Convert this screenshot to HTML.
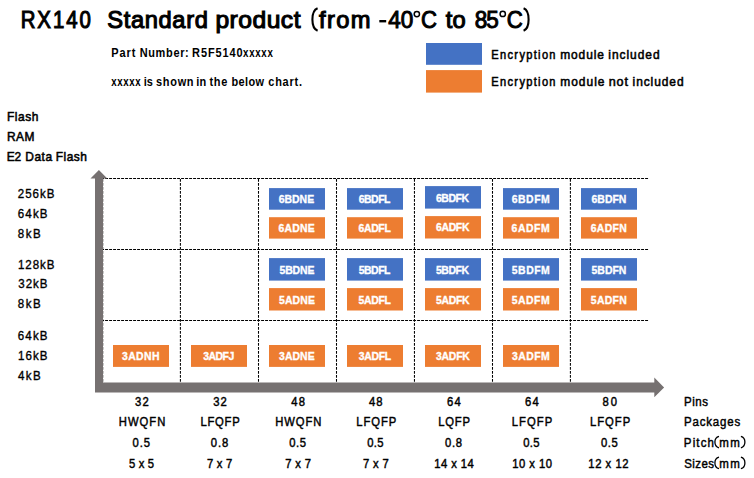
<!DOCTYPE html>
<html><head><meta charset="utf-8"><style>
html,body{margin:0;padding:0;background:#fff;width:754px;height:478px;overflow:hidden}
svg{display:block}
text{font-family:"Liberation Sans",sans-serif;font-kerning:none}
</style></head><body>
<svg width="754" height="478" viewBox="0 0 754 478">
<rect width="754" height="478" fill="#fff"/>
<text transform="translate(20.70 27.5) scale(0.860 1)" font-size="23.7" fill="#000" stroke="#000" stroke-width="1.1" letter-spacing="2.268">RX140</text>
<text transform="translate(107.27 27.5) scale(1.000 1)" font-size="23.7" fill="#000" stroke="#000" stroke-width="1.1" letter-spacing="0.631">Standard</text>
<text transform="translate(215.38 27.5) scale(1.040 1)" font-size="23.7" fill="#000" stroke="#000" stroke-width="1.1" letter-spacing="0.483">product</text>
<text transform="translate(319.11 27.5) scale(1.000 1)" font-size="23.7" fill="#000" stroke="#000" stroke-width="1.1" letter-spacing="1.333">from</text>
<text transform="translate(445.69 27.5) scale(1.000 1)" font-size="23.7" fill="#000" stroke="#000" stroke-width="1.1" letter-spacing="0.189">to</text>
<text transform="translate(388.36 27.7) scale(0.950 1)" font-size="23.7" fill="#000" stroke="#000" stroke-width="1.0" letter-spacing="-0.102">40</text>
<text transform="translate(420.98 27.7) scale(0.933 1)" font-size="23.7" fill="#000" stroke="#000" stroke-width="1.0">C</text>
<text transform="translate(474.70 27.7) scale(0.950 1)" font-size="23.7" fill="#000" stroke="#000" stroke-width="1.0" letter-spacing="-0.915">85</text>
<text transform="translate(506.87 27.7) scale(0.939 1)" font-size="23.7" fill="#000" stroke="#000" stroke-width="1.0">C</text>
<rect x="379.3" y="20" width="6.9" height="2.4" fill="#000"/>
<circle cx="416.85" cy="14.1" r="2.65" fill="none" stroke="#000" stroke-width="1.5"/>
<circle cx="502.75" cy="13.9" r="2.65" fill="none" stroke="#000" stroke-width="1.5"/>
<path d="M317.6 8.2 C310.67 10.90 310.67 28.00 317.6 30.7" fill="none" stroke="#000" stroke-width="2.1"/>
<path d="M523.6 8.2 C530.27 10.90 530.27 28.00 523.6 30.7" fill="none" stroke="#000" stroke-width="2.1"/>
<text transform="translate(111.27 57) scale(0.850 1)" font-size="12.9" font-weight="bold" fill="#000" letter-spacing="1.073">Part</text>
<text transform="translate(139.67 57) scale(0.850 1)" font-size="12.9" font-weight="bold" fill="#000" letter-spacing="0.786">Number:</text>
<text transform="translate(192.07 57) scale(0.850 1)" font-size="12.9" font-weight="bold" fill="#000" letter-spacing="1.074">R5F5140</text>
<text transform="translate(243.03 57) scale(0.750 1)" font-size="12.9" font-weight="bold" fill="#000" letter-spacing="0.978">xxxxx</text>
<text transform="translate(111.23 86) scale(0.750 1)" font-size="12.9" font-weight="bold" fill="#000" letter-spacing="0.811">xxxxx</text>
<text transform="translate(143.73 86) scale(0.850 1)" font-size="12.9" font-weight="bold" fill="#000" letter-spacing="-0.034">is</text>
<text transform="translate(156.01 86) scale(0.850 1)" font-size="12.9" font-weight="bold" fill="#000" letter-spacing="0.837">shown</text>
<text transform="translate(196.13 86) scale(0.850 1)" font-size="12.9" font-weight="bold" fill="#000" letter-spacing="0.354">in</text>
<text transform="translate(209.47 86) scale(0.850 1)" font-size="12.9" font-weight="bold" fill="#000" letter-spacing="0.801">the</text>
<text transform="translate(231.48 86) scale(0.850 1)" font-size="12.9" font-weight="bold" fill="#000" letter-spacing="0.421">below</text>
<text transform="translate(268.27 86) scale(0.850 1)" font-size="12.9" font-weight="bold" fill="#000" letter-spacing="0.900">chart.</text>
<rect x="426" y="43" width="56" height="21.8" fill="#4472c4"/>
<rect x="426" y="70.1" width="56" height="22.5" fill="#ed7d31"/>
<text transform="translate(491.33 59) scale(0.880 1)" font-size="12.6" fill="#000" stroke="#000" stroke-width="0.55" letter-spacing="1.497">Encryption</text>
<text transform="translate(560.17 59) scale(0.950 1)" font-size="12.6" fill="#000" stroke="#000" stroke-width="0.55" letter-spacing="0.978">module</text>
<text transform="translate(608.36 59) scale(0.950 1)" font-size="12.6" fill="#000" stroke="#000" stroke-width="0.55" letter-spacing="1.002">included</text>
<text transform="translate(491.33 85.9) scale(0.880 1)" font-size="12.6" fill="#000" stroke="#000" stroke-width="0.55" letter-spacing="1.497">Encryption</text>
<text transform="translate(560.17 85.9) scale(0.950 1)" font-size="12.6" fill="#000" stroke="#000" stroke-width="0.55" letter-spacing="1.083">module</text>
<text transform="translate(608.64 85.9) scale(1.000 1)" font-size="12.6" fill="#000" stroke="#000" stroke-width="0.55" letter-spacing="0.882">not</text>
<text transform="translate(632.56 85.9) scale(0.950 1)" font-size="12.6" fill="#000" stroke="#000" stroke-width="0.55" letter-spacing="0.971">included</text>
<text transform="translate(6.97 120.9) scale(0.920 1)" font-size="13" fill="#000" stroke="#000" stroke-width="0.55" letter-spacing="0.572">Flash</text>
<text transform="translate(6.97 140.8) scale(0.920 1)" font-size="13" fill="#000" stroke="#000" stroke-width="0.55" letter-spacing="0.532">RAM</text>
<text transform="translate(6.87 160.7) scale(0.920 1)" font-size="13" fill="#000" stroke="#000" stroke-width="0.55" letter-spacing="-0.492">E2</text>
<text transform="translate(25.37 160.7) scale(0.920 1)" font-size="13" fill="#000" stroke="#000" stroke-width="0.55" letter-spacing="0.512">Data</text>
<text transform="translate(55.77 160.7) scale(0.920 1)" font-size="13" fill="#000" stroke="#000" stroke-width="0.55" letter-spacing="0.518">Flash</text>
<text transform="translate(17.79 197.6) scale(0.960 1)" font-size="12" fill="#000" stroke="#000" stroke-width="0.35" letter-spacing="1.038">256kB</text>
<text transform="translate(17.78 217.7) scale(0.960 1)" font-size="12" fill="#000" stroke="#000" stroke-width="0.35" letter-spacing="1.215">64kB</text>
<text transform="translate(17.87 237.5) scale(0.960 1)" font-size="12" fill="#000" stroke="#000" stroke-width="0.35" letter-spacing="1.522">8kB</text>
<text transform="translate(17.89 268.8) scale(0.960 1)" font-size="12" fill="#000" stroke="#000" stroke-width="0.35" letter-spacing="1.012">128kB</text>
<text transform="translate(18.33 288.3) scale(0.960 1)" font-size="12" fill="#000" stroke="#000" stroke-width="0.35" letter-spacing="1.025">32kB</text>
<text transform="translate(17.87 308.4) scale(0.960 1)" font-size="12" fill="#000" stroke="#000" stroke-width="0.35" letter-spacing="1.522">8kB</text>
<text transform="translate(17.78 339.8) scale(0.960 1)" font-size="12" fill="#000" stroke="#000" stroke-width="0.35" letter-spacing="1.215">64kB</text>
<text transform="translate(17.89 359.7) scale(0.960 1)" font-size="12" fill="#000" stroke="#000" stroke-width="0.35" letter-spacing="1.178">16kB</text>
<text transform="translate(18.10 379.8) scale(0.960 1)" font-size="12" fill="#000" stroke="#000" stroke-width="0.35" letter-spacing="1.399">4kB</text>
<rect x="269.0" y="188.1" width="56" height="21.6" fill="#4472c4"/>
<text transform="translate(278.78 202.8) scale(0.950 1)" font-size="11" font-weight="bold" fill="#fff" stroke="#fff" stroke-width="0.35" letter-spacing="-0.017">6BDNE</text>
<rect x="269.0" y="217.2" width="56" height="21.4" fill="#ed7d31"/>
<text transform="translate(278.58 231.9) scale(0.950 1)" font-size="11" font-weight="bold" fill="#fff" stroke="#fff" stroke-width="0.35" letter-spacing="0.220">6ADNE</text>
<rect x="269.0" y="258.1" width="56" height="22.5" fill="#4472c4"/>
<text transform="translate(279.54 273.8) scale(0.950 1)" font-size="11" font-weight="bold" fill="#fff" stroke="#fff" stroke-width="0.35" letter-spacing="-0.138">5BDNE</text>
<rect x="269.0" y="288.1" width="56" height="22.4" fill="#ed7d31"/>
<text transform="translate(278.94 303.6) scale(0.950 1)" font-size="11" font-weight="bold" fill="#fff" stroke="#fff" stroke-width="0.35" letter-spacing="0.178">5ADNE</text>
<rect x="347.0" y="188.1" width="56" height="21.6" fill="#4472c4"/>
<text transform="translate(358.68 202.8) scale(0.950 1)" font-size="11" font-weight="bold" fill="#fff" stroke="#fff" stroke-width="0.35" letter-spacing="-0.500">6BDFL</text>
<rect x="347.0" y="217.2" width="56" height="21.4" fill="#ed7d31"/>
<text transform="translate(358.38 231.9) scale(0.950 1)" font-size="11" font-weight="bold" fill="#fff" stroke="#fff" stroke-width="0.35" letter-spacing="-0.316">6ADFL</text>
<rect x="347.0" y="258.1" width="56" height="22.5" fill="#4472c4"/>
<text transform="translate(358.74 273.8) scale(0.950 1)" font-size="11" font-weight="bold" fill="#fff" stroke="#fff" stroke-width="0.35" letter-spacing="-0.516">5BDFL</text>
<rect x="347.0" y="288.1" width="56" height="22.4" fill="#ed7d31"/>
<text transform="translate(358.44 303.6) scale(0.950 1)" font-size="11" font-weight="bold" fill="#fff" stroke="#fff" stroke-width="0.35" letter-spacing="-0.332">5ADFL</text>
<rect x="425.0" y="186.1" width="56" height="22.5" fill="#4472c4"/>
<text transform="translate(435.88 201.8) scale(0.950 1)" font-size="11" font-weight="bold" fill="#fff" stroke="#fff" stroke-width="0.35" letter-spacing="-0.418">6BDFK</text>
<rect x="425.0" y="216.1" width="56" height="22.4" fill="#ed7d31"/>
<text transform="translate(435.88 231.2) scale(0.950 1)" font-size="11" font-weight="bold" fill="#fff" stroke="#fff" stroke-width="0.35" letter-spacing="-0.313">6ADFK</text>
<rect x="425.0" y="258.1" width="56" height="22.5" fill="#4472c4"/>
<text transform="translate(435.94 273.8) scale(0.950 1)" font-size="11" font-weight="bold" fill="#fff" stroke="#fff" stroke-width="0.35" letter-spacing="-0.434">5BDFK</text>
<rect x="425.0" y="288.1" width="56" height="22.4" fill="#ed7d31"/>
<text transform="translate(435.94 303.6) scale(0.950 1)" font-size="11" font-weight="bold" fill="#fff" stroke="#fff" stroke-width="0.35" letter-spacing="-0.329">5ADFK</text>
<rect x="503.0" y="188.1" width="56" height="21.6" fill="#4472c4"/>
<text transform="translate(511.78 202.8) scale(0.950 1)" font-size="11" font-weight="bold" fill="#fff" stroke="#fff" stroke-width="0.35" letter-spacing="0.515">6BDFM</text>
<rect x="503.0" y="217.2" width="56" height="21.4" fill="#ed7d31"/>
<text transform="translate(511.58 231.9) scale(0.950 1)" font-size="11" font-weight="bold" fill="#fff" stroke="#fff" stroke-width="0.35" letter-spacing="0.567">6ADFM</text>
<rect x="503.0" y="258.1" width="56" height="22.5" fill="#4472c4"/>
<text transform="translate(511.84 273.8) scale(0.950 1)" font-size="11" font-weight="bold" fill="#fff" stroke="#fff" stroke-width="0.35" letter-spacing="0.499">5BDFM</text>
<rect x="503.0" y="288.1" width="56" height="22.4" fill="#ed7d31"/>
<text transform="translate(511.64 303.6) scale(0.950 1)" font-size="11" font-weight="bold" fill="#fff" stroke="#fff" stroke-width="0.35" letter-spacing="0.551">5ADFM</text>
<rect x="581.0" y="188.1" width="56" height="21.6" fill="#4472c4"/>
<text transform="translate(591.48 202.8) scale(0.950 1)" font-size="11" font-weight="bold" fill="#fff" stroke="#fff" stroke-width="0.35" letter-spacing="0.031">6BDFN</text>
<rect x="581.0" y="217.2" width="56" height="21.4" fill="#ed7d31"/>
<text transform="translate(590.78 231.9) scale(0.950 1)" font-size="11" font-weight="bold" fill="#fff" stroke="#fff" stroke-width="0.35" letter-spacing="0.295">6ADFN</text>
<rect x="581.0" y="258.1" width="56" height="22.5" fill="#4472c4"/>
<text transform="translate(591.54 273.8) scale(0.950 1)" font-size="11" font-weight="bold" fill="#fff" stroke="#fff" stroke-width="0.35" letter-spacing="0.015">5BDFN</text>
<rect x="581.0" y="288.1" width="56" height="22.4" fill="#ed7d31"/>
<text transform="translate(590.84 303.6) scale(0.950 1)" font-size="11" font-weight="bold" fill="#fff" stroke="#fff" stroke-width="0.35" letter-spacing="0.278">5ADFN</text>
<rect x="113.0" y="345" width="56" height="21.9" fill="#ed7d31"/>
<text transform="translate(121.93 359.7) scale(0.950 1)" font-size="11" font-weight="bold" fill="#fff" stroke="#fff" stroke-width="0.35" letter-spacing="0.424">3ADNH</text>
<rect x="191.0" y="345" width="56" height="21.9" fill="#ed7d31"/>
<text transform="translate(203.13 359.7) scale(0.950 1)" font-size="11" font-weight="bold" fill="#fff" stroke="#fff" stroke-width="0.35" letter-spacing="-0.494">3ADFJ</text>
<rect x="269.0" y="345" width="56" height="21.9" fill="#ed7d31"/>
<text transform="translate(279.03 359.7) scale(0.950 1)" font-size="11" font-weight="bold" fill="#fff" stroke="#fff" stroke-width="0.35" letter-spacing="0.051">3ADNE</text>
<rect x="347.0" y="345" width="56" height="21.9" fill="#ed7d31"/>
<text transform="translate(358.73 359.7) scale(0.950 1)" font-size="11" font-weight="bold" fill="#fff" stroke="#fff" stroke-width="0.35" letter-spacing="-0.301">3ADFL</text>
<rect x="425.0" y="345" width="56" height="21.9" fill="#ed7d31"/>
<text transform="translate(435.93 359.7) scale(0.950 1)" font-size="11" font-weight="bold" fill="#fff" stroke="#fff" stroke-width="0.35" letter-spacing="-0.219">3ADFK</text>
<rect x="503.0" y="345" width="56" height="21.9" fill="#ed7d31"/>
<text transform="translate(511.93 359.7) scale(0.950 1)" font-size="11" font-weight="bold" fill="#fff" stroke="#fff" stroke-width="0.35" letter-spacing="0.503">3ADFM</text>
<line x1="101.1" y1="178.5" x2="648.1" y2="178.5" stroke="#000" stroke-width="1.05" stroke-dasharray="2.95 1.05"/>
<line x1="101.1" y1="249.5" x2="648.1" y2="249.5" stroke="#000" stroke-width="1.05" stroke-dasharray="2.95 1.05"/>
<line x1="101.1" y1="320.5" x2="648.1" y2="320.5" stroke="#000" stroke-width="1.05" stroke-dasharray="2.95 1.05"/>
<line x1="102.7" y1="178.95" x2="102.7" y2="382" stroke="#000" stroke-width="1.05" stroke-dasharray="2.9 1.1"/>
<line x1="180.4" y1="178.95" x2="180.4" y2="382" stroke="#000" stroke-width="1.05" stroke-dasharray="2.9 1.1"/>
<line x1="258.5" y1="178.95" x2="258.5" y2="382" stroke="#000" stroke-width="1.05" stroke-dasharray="2.9 1.1"/>
<line x1="336.5" y1="178.95" x2="336.5" y2="382" stroke="#000" stroke-width="1.05" stroke-dasharray="2.9 1.1"/>
<line x1="414.45" y1="178.95" x2="414.45" y2="382" stroke="#000" stroke-width="1.05" stroke-dasharray="2.9 1.1"/>
<line x1="492.5" y1="178.95" x2="492.5" y2="382" stroke="#000" stroke-width="1.05" stroke-dasharray="2.9 1.1"/>
<line x1="570.4" y1="178.95" x2="570.4" y2="382" stroke="#000" stroke-width="1.05" stroke-dasharray="2.9 1.1"/>
<path d="M95 392.6 L95 178.5 L90.5 178.5 L98.9 169.9 L107.3 178.5 L103 178.5 L103 382.5 L654.3 382.5 L654.3 377.6 L664.1 387.4 L654.3 397.2 L654.3 392.6 Z" fill="#767171"/>
<text transform="translate(134.97 406) scale(0.900 1)" font-size="12.5" fill="#000" stroke="#000" stroke-width="0.45" letter-spacing="1.418">32</text>
<text transform="translate(118.78 426.1) scale(0.900 1)" font-size="12.5" fill="#000" stroke="#000" stroke-width="0.45" letter-spacing="1.152">HWQFN</text>
<text transform="translate(132.56 447) scale(0.900 1)" font-size="12.5" fill="#000" stroke="#000" stroke-width="0.45" letter-spacing="1.038">0.5</text>
<text transform="translate(129.05 468) scale(0.900 1)" font-size="12.5" fill="#000" stroke="#000" stroke-width="0.45" letter-spacing="0.147">5&#160;x&#160;5</text>
<text transform="translate(213.17 406) scale(0.900 1)" font-size="12.5" fill="#000" stroke="#000" stroke-width="0.45" letter-spacing="1.084">32</text>
<text transform="translate(200.38 426.1) scale(0.900 1)" font-size="12.5" fill="#000" stroke="#000" stroke-width="0.45" letter-spacing="0.849">LFQFP</text>
<text transform="translate(210.76 447) scale(0.900 1)" font-size="12.5" fill="#000" stroke="#000" stroke-width="0.45" letter-spacing="0.991">0.8</text>
<text transform="translate(207.03 468) scale(0.900 1)" font-size="12.5" fill="#000" stroke="#000" stroke-width="0.45" letter-spacing="0.236">7&#160;x&#160;7</text>
<text transform="translate(291.34 406) scale(0.900 1)" font-size="12.5" fill="#000" stroke="#000" stroke-width="0.45" letter-spacing="1.365">48</text>
<text transform="translate(275.18 426.1) scale(0.900 1)" font-size="12.5" fill="#000" stroke="#000" stroke-width="0.45" letter-spacing="1.040">HWQFN</text>
<text transform="translate(289.16 447) scale(0.900 1)" font-size="12.5" fill="#000" stroke="#000" stroke-width="0.45" letter-spacing="0.704">0.5</text>
<text transform="translate(285.13 468) scale(0.900 1)" font-size="12.5" fill="#000" stroke="#000" stroke-width="0.45" letter-spacing="0.430">7&#160;x&#160;7</text>
<text transform="translate(368.94 406) scale(0.900 1)" font-size="12.5" fill="#000" stroke="#000" stroke-width="0.45" letter-spacing="1.254">48</text>
<text transform="translate(356.18 426.1) scale(0.900 1)" font-size="12.5" fill="#000" stroke="#000" stroke-width="0.45" letter-spacing="1.071">LFQFP</text>
<text transform="translate(367.16 447) scale(0.900 1)" font-size="12.5" fill="#000" stroke="#000" stroke-width="0.45" letter-spacing="0.427">0.5</text>
<text transform="translate(363.03 468) scale(0.900 1)" font-size="12.5" fill="#000" stroke="#000" stroke-width="0.45" letter-spacing="0.347">7&#160;x&#160;7</text>
<text transform="translate(447.03 406) scale(0.900 1)" font-size="12.5" fill="#000" stroke="#000" stroke-width="0.45" letter-spacing="1.481">64</text>
<text transform="translate(438.18 426.1) scale(0.900 1)" font-size="12.5" fill="#000" stroke="#000" stroke-width="0.45" letter-spacing="0.936">LQFP</text>
<text transform="translate(444.96 447) scale(0.900 1)" font-size="12.5" fill="#000" stroke="#000" stroke-width="0.45" letter-spacing="0.769">0.8</text>
<text transform="translate(434.25 468) scale(0.900 1)" font-size="12.5" fill="#000" stroke="#000" stroke-width="0.45" letter-spacing="0.496">14&#160;x&#160;14</text>
<text transform="translate(525.03 406) scale(0.900 1)" font-size="12.5" fill="#000" stroke="#000" stroke-width="0.45" letter-spacing="1.425">64</text>
<text transform="translate(511.78 426.1) scale(0.900 1)" font-size="12.5" fill="#000" stroke="#000" stroke-width="0.45" letter-spacing="1.182">LFQFP</text>
<text transform="translate(523.16 447) scale(0.900 1)" font-size="12.5" fill="#000" stroke="#000" stroke-width="0.45" letter-spacing="0.427">0.5</text>
<text transform="translate(512.25 468) scale(0.900 1)" font-size="12.5" fill="#000" stroke="#000" stroke-width="0.45" letter-spacing="0.553">10&#160;x&#160;10</text>
<text transform="translate(602.61 406) scale(0.900 1)" font-size="12.5" fill="#000" stroke="#000" stroke-width="0.45" letter-spacing="2.233">80</text>
<text transform="translate(589.98 426.1) scale(0.900 1)" font-size="12.5" fill="#000" stroke="#000" stroke-width="0.45" letter-spacing="1.099">LFQFP</text>
<text transform="translate(600.96 447) scale(0.900 1)" font-size="12.5" fill="#000" stroke="#000" stroke-width="0.45" letter-spacing="0.704">0.5</text>
<text transform="translate(588.35 468) scale(0.900 1)" font-size="12.5" fill="#000" stroke="#000" stroke-width="0.45" letter-spacing="0.595">12&#160;x&#160;12</text>
<text transform="translate(683.96 406) scale(0.920 1)" font-size="12.5" fill="#000" stroke="#000" stroke-width="0.45" letter-spacing="0.643">Pins</text>
<text transform="translate(683.96 426.1) scale(0.920 1)" font-size="12.5" fill="#000" stroke="#000" stroke-width="0.45" letter-spacing="0.907">Packages</text>
<text transform="translate(683.86 446.9) scale(0.920 1)" font-size="12.5" fill="#000" stroke="#000" stroke-width="0.45" letter-spacing="1.226">Pitch</text>
<text transform="translate(719.34 446.9) scale(0.920 1)" font-size="12.5" fill="#000" stroke="#000" stroke-width="0.45" letter-spacing="1.575">mm</text>
<text transform="translate(684.28 467.9) scale(0.920 1)" font-size="12.5" fill="#000" stroke="#000" stroke-width="0.45" letter-spacing="0.463">Sizes</text>
<text transform="translate(719.34 467.9) scale(0.920 1)" font-size="12.5" fill="#000" stroke="#000" stroke-width="0.45" letter-spacing="1.575">mm</text>
<path d="M719.0 436.4 C713.53 437.77 713.53 446.43 719.0 447.8" fill="none" stroke="#000" stroke-width="1.3"/>
<path d="M740.9 436.4 C746.23 437.77 746.23 446.43 740.9 447.8" fill="none" stroke="#000" stroke-width="1.3"/>
<path d="M719.0 457.2 C713.53 458.57 713.53 467.23 719.0 468.6" fill="none" stroke="#000" stroke-width="1.3"/>
<path d="M740.9 457.2 C746.23 458.57 746.23 467.23 740.9 468.6" fill="none" stroke="#000" stroke-width="1.3"/>
</svg></body></html>
